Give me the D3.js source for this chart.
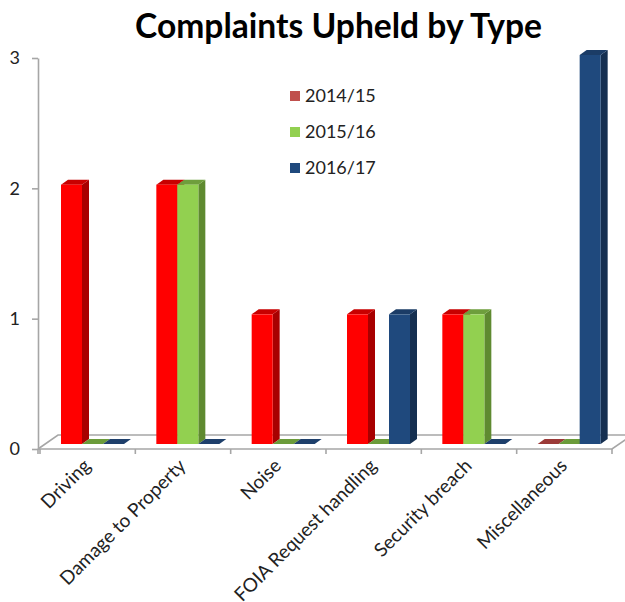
<!DOCTYPE html>
<html>
<head>
<meta charset="utf-8">
<script src="https://cdn.jsdelivr.net/npm/d3@7"></script>
<style>
  html, body { margin: 0; padding: 0; background: #fff; }
  svg { display: block; }
</style>
</head>
<body>
<script>
// ---- data ----
const categories = ["Driving", "Damage to Property", "Noise", "FOIA Request handling", "Security breach", "Miscellaneous"];
const seriesNames = ["2014/15", "2015/16", "2016/17"];
const values2014 = [2, 2, 1, 1, 1, 0];
const values2015 = [0, 2, 0, 0, 1, 0];
const values2016 = [0, 0, 0, 1, 0, 3];
const yTickValues = [0, 1, 2, 3];
const chartTitle = "Complaints Upheld by Type";

// ---- styles ----
const W = 625, H = 602;
const seriesColors = {
  "2014/15": { legend: "#C0504D", front: "#FF0000", side: "#A80000", top: "#C80000", flat: "#9B3A38" },
  "2015/16": { legend: "#92D050", front: "#92D050", side: "#5F8A30", top: "#6E9E3C", flat: "#6B9B3A" },
  "2016/17": { legend: "#1F497D", front: "#1F497D", side: "#152F50", top: "#1B3C66", flat: "#1E3F6B" }
};
const DX = 7, DY = -5; // bar depth projection
const FX = 20, FY = -14; // floor depth projection
const font = "Lato, 'Open Sans', sans-serif";

const svg = d3.select("body").append("svg").attr("width", W).attr("height", H);

const x0 = d3.scaleBand().domain(categories).range([40, 612]);
const x1 = d3.scaleBand().domain(seriesNames).range([21, 84]);
const yAxisScale = d3.scaleLinear().domain([0, 3]).range([449, 58]);
const yBar = d3.scaleLinear().domain([0, 3]).range([444, 55]);

const table = seriesNames.map((s, si) => ({
  name: s,
  values: [values2014, values2015, values2016][si]
}));

// ---- floor ----
const floorG = svg.append("g");
const xL = x0.range()[0] - 2, xR = x0.range()[1];
const y0 = yAxisScale(0);
floorG.append("path")
  .attr("d", `M${xL},${y0} L${xL + FX},${y0 + FY} L${xR + FX + 10},${y0 + FY}`)
  .attr("fill", "none").attr("stroke", "#A6A6A6").attr("stroke-width", 1.6);
floorG.append("path")
  .attr("d", `M${xL},${y0} L${xR},${y0} L${xR + FX},${y0 + FY}`)
  .attr("fill", "none").attr("stroke", "#A6A6A6").attr("stroke-width", 1.6);
// category tick marks
const tickXs = categories.map(c => x0(c)).concat([x0.range()[1]]);
floorG.selectAll("line.ct").data(tickXs).enter().append("line")
  .attr("x1", d => d).attr("x2", d => d)
  .attr("y1", y0).attr("y2", y0 + 5)
  .attr("stroke", "#A6A6A6").attr("stroke-width", 1.6);

// ---- y axis ----
const yAxis = d3.axisLeft(yAxisScale).tickValues(yTickValues).tickFormat(d3.format("d"))
  .tickSize(6).tickSizeOuter(0).tickPadding(12);
const yg = svg.append("g").attr("transform", `translate(${xL},0)`).call(yAxis);
yg.select(".domain").attr("stroke", "#A6A6A6").attr("stroke-width", 1.6);
yg.selectAll(".tick line").attr("stroke", "#A6A6A6").attr("stroke-width", 1.6);
yg.selectAll(".tick text").attr("font-family", font).attr("font-size", 18).attr("fill", "#222");
yg.append("line").attr("x1", 0).attr("x2", 0).attr("y1", y0).attr("y2", y0 + 5)
  .attr("stroke", "#A6A6A6").attr("stroke-width", 1.6);

// ---- bars ----
const barsG = svg.append("g");
const bw = x1.bandwidth();
categories.forEach((c, ci) => {
  table.forEach(s => {
    const v = s.values[ci];
    const col = seriesColors[s.name];
    const x = x0(c) + x1(s.name);
    const yb = yBar(0), yt = yBar(v);
    const g = barsG.append("g");
    if (v === 0) {
      g.append("path")
        .attr("d", `M${x},${yb} L${x + bw},${yb} L${x + bw + DX},${yb + DY} L${x + DX},${yb + DY}Z`)
        .attr("fill", col.flat);
      return;
    }
    // side
    g.append("path")
      .attr("d", `M${x + bw},${yt} L${x + bw + DX},${yt + DY} L${x + bw + DX},${yb + DY} L${x + bw},${yb}Z`)
      .attr("fill", col.side);
    // top
    g.append("path")
      .attr("d", `M${x},${yt} L${x + bw},${yt} L${x + bw + DX},${yt + DY} L${x + DX},${yt + DY}Z`)
      .attr("fill", col.top);
    // front
    g.append("rect").attr("x", x).attr("y", yt).attr("width", bw).attr("height", yb - yt)
      .attr("fill", col.front);
  });
});

// ---- x labels ----
svg.append("g").selectAll("text").data(categories).enter().append("text")
  .attr("transform", d => `translate(${x0(d) + x0.bandwidth() / 2 + 4},${467}) rotate(-45)`)
  .attr("text-anchor", "end")
  .attr("font-family", font).attr("font-size", 19).attr("fill", "#222")
  .text(d => d);

// ---- legend ----
const lg = svg.append("g");
seriesNames.forEach((s, i) => {
  const cy = 96 + i * 36;
  lg.append("rect").attr("x", 290).attr("y", cy - 5).attr("width", 10).attr("height", 10)
    .attr("fill", seriesColors[s].legend);
  lg.append("text").attr("x", 305).attr("y", cy).attr("dy", "0.36em")
    .attr("font-family", font).attr("font-size", 18).attr("fill", "#222").text(s);
});

// ---- title ----
const title = svg.append("text").attr("x", 338.5).attr("y", 38).attr("text-anchor", "middle")
  .attr("font-family", font).attr("font-weight", "bold").attr("font-size", 30).attr("fill", "#000")
  .text(chartTitle);
const tw = title.node().getComputedTextLength();
title.attr("font-size", 30 * 407 / tw);
</script>
</body>
</html>
